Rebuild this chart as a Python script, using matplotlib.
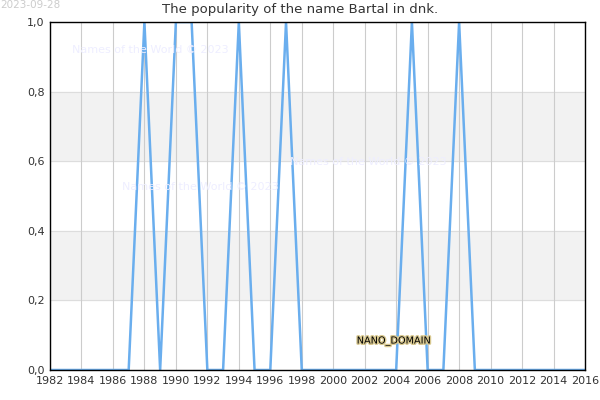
import matplotlib
matplotlib.use("Agg")
import matplotlib.pyplot as plt
from matplotlib.ticker import FuncFormatter

years = list(range(1982, 2017))
ones = {1988, 1990, 1991, 1994, 1997, 2005, 2008}
values = [1.0 if y in ones else 0.0 for y in years]
xticks = list(range(1982, 2017, 2))
yticks = [0.0, 0.2, 0.4, 0.6, 0.8, 1.0]

fig = plt.figure(figsize=(6, 4), dpi=100)
ax = fig.add_axes([50/600, 30/400, 535/600, 348/400])
for lo, hi in [(0.2, 0.4), (0.6, 0.8)]:
    ax.axhspan(lo, hi, color="#f2f2f2", zorder=0)
for y in yticks:
    ax.axhline(y, color="#dddddd", lw=0.8, zorder=0.5)
for x in xticks:
    ax.axvline(x, color="#cccccc", lw=0.8, zorder=0.5)
ax.plot(years, values, color="#6aaeee", lw=1.8, zorder=2)
ax.set_xlim(1982, 2016)
ax.set_ylim(0, 1)
ax.set_xticks(xticks)
ax.set_yticks(yticks)
ax.yaxis.set_major_formatter(FuncFormatter(lambda v, p: f"{v:.1f}".replace(".", ",")))
ax.tick_params(length=0, labelsize=8, colors="#333333", pad=4)
for s in ax.spines.values():
    s.set_color("black"); s.set_linewidth(1)
fig.text(0.5, 1 - 10/400, "The popularity of the name Bartal in dnk.", ha="center", va="center", fontsize=9.5, color="#333333")
fig.text(0.0, 1.0, "2023-09-28", ha="left", va="top", fontsize=7.5, color="#cccccc")
for (x, y) in [(150, 50), (200, 187), (368, 162)]:
    fig.text(x/600, 1 - y/400, "Names of the World © 2023", ha="center", va="center", fontsize=8, color="#eeeeff")
fig.text(394/600, 1 - 341/400, "NANO_DOMAIN", ha="center", va="center", fontsize=7, color="black",
         bbox=None).set_path_effects([__import__("matplotlib.patheffects", fromlist=["x"]).withStroke(linewidth=2, foreground="#d8c890")])
fig.savefig("out.png", dpi=100)
